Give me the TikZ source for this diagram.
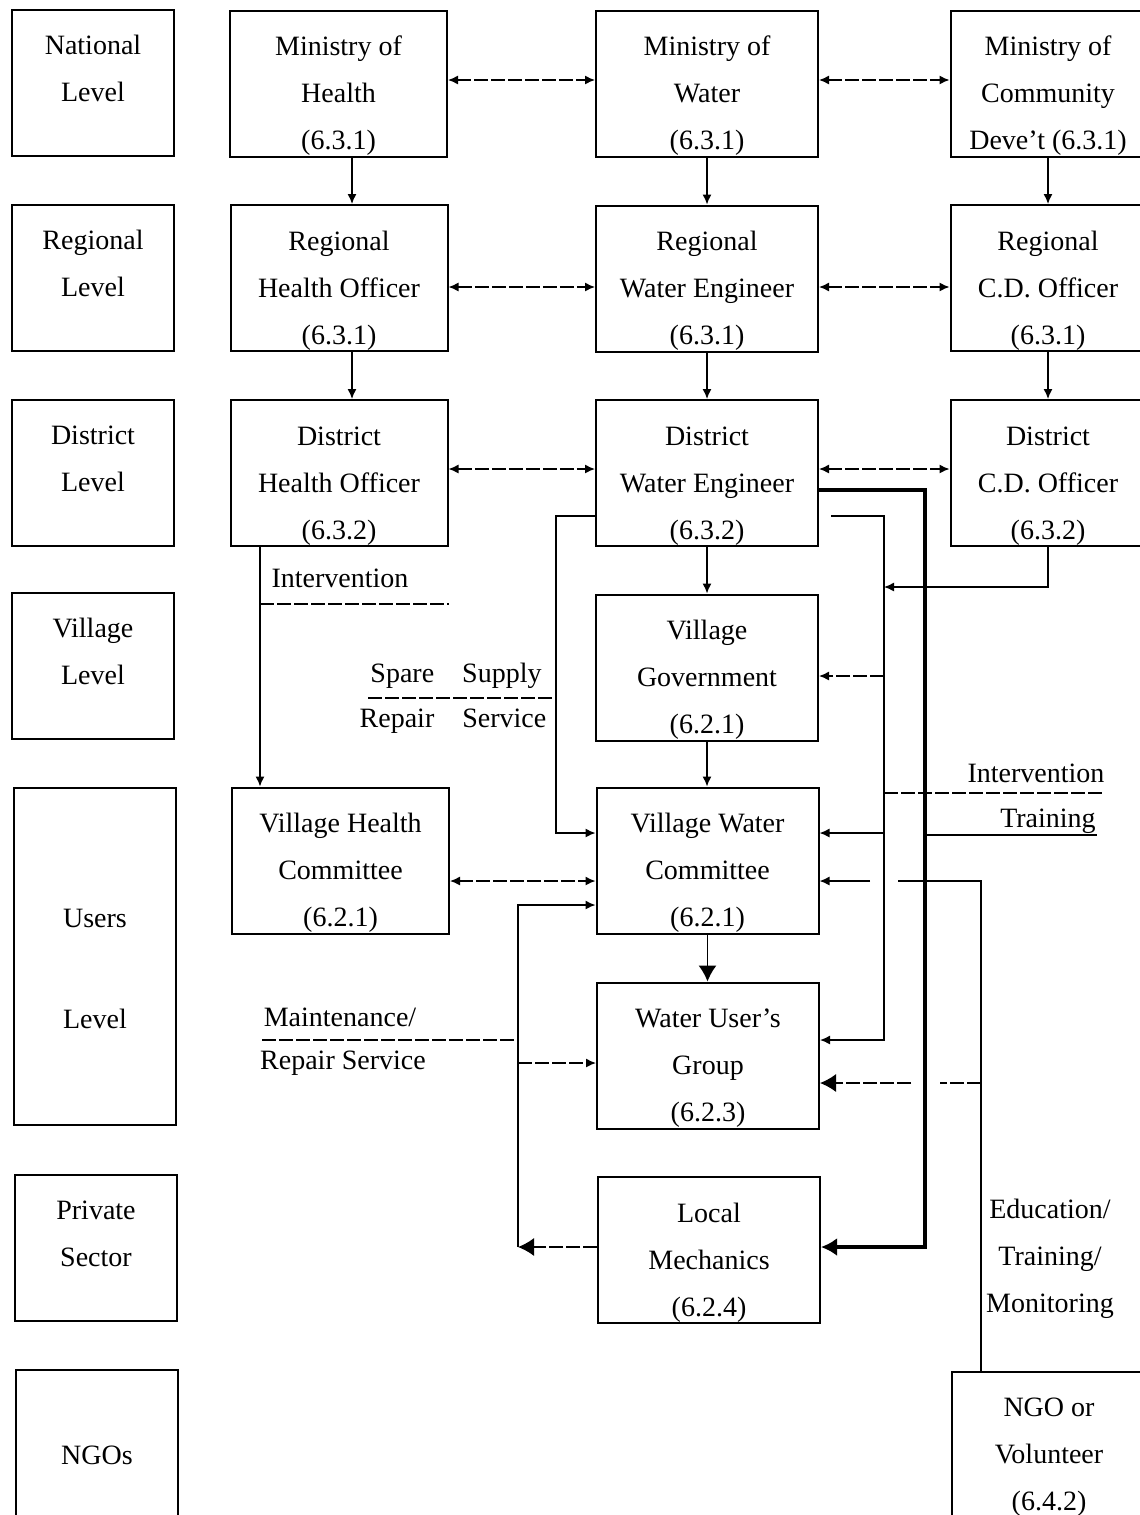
\documentclass[tikz,border=0pt]{standalone}
\usepackage{fontspec}
\setmainfont{Liberation Serif}
\usetikzlibrary{arrows.meta,calc}
\newcommand{\boxgap}{\rule{0pt}{22pt}}
\tikzset{
  orgbox/.style={draw, line width=1pt, align=center, inner sep=0pt,
    minimum width=111pt, minimum height=73pt, font=\fontsize{14}{23.5}\selectfont},
  levelbox/.style={orgbox, minimum width=81pt},
  lbl/.style={inner sep=0pt, font=\fontsize{14}{23.5}\selectfont},
  link/.style={line width=0.7pt},
  dashline/.style={dash pattern=on 7pt off 1.5pt},
  arr/.style={link, -{Latex[length=5pt,width=4.5pt]}},
  bigarr/.style={link, -{Latex[length=8pt,width=9pt]}},
  twoway/.style={link, dashline, {Latex[length=5pt,width=4.5pt]}-{Latex[length=5pt,width=4.5pt]}},
  heavyarr/.style={line width=2pt, -{Latex[length=8pt,width=9pt]}}
}
\begin{document}
\begin{tikzpicture}[x=0.5pt,y=-0.5pt]
  \useasboundingbox (0,0) rectangle (1140,1515);
  % level column
  \node[levelbox] (lnat) at (93,82.5) {\boxgap National\\Level\\\phantom{(}};
  \node[levelbox] (lreg) at (93,277.5) {\boxgap Regional\\Level\\\phantom{(}};
  \node[levelbox] (ldis) at (93,472.5) {\boxgap District\\Level\\\phantom{(}};
  \node[levelbox] (lvil) at (93,665.5) {\boxgap Village\\Level\\\phantom{(}};
  \node[levelbox, minimum height=168.5pt] (lusr) at (95,956.5) {\boxgap Users\\[27pt]Level};
  \node[levelbox] (lpri) at (96,1247.5) {\boxgap Private\\Sector\\\phantom{(}};
  \node[levelbox] (lngo) at (97,1442.5) {\boxgap NGOs};
  % health column
  \node[orgbox, minimum width=108.5pt] (moh) at (338.5,83.5) {\boxgap Ministry of\\Health\\(6.3.1)};
  \node[orgbox, minimum width=108.5pt] (rho) at (339,278) {\boxgap Regional\\Health Officer\\(6.3.1)};
  \node[orgbox, minimum width=108.5pt] (dho) at (339,473) {\boxgap District\\Health Officer\\(6.3.2)};
  \node[orgbox, minimum width=108.5pt] (vhc) at (340.5,860.5) {\boxgap Village Health\\Committee\\(6.2.1)};
  % water column
  \node[orgbox] (mow) at (707,83.5) {\boxgap Ministry of\\Water\\(6.3.1)};
  \node[orgbox] (rwe) at (707,278.5) {\boxgap Regional\\Water Engineer\\(6.3.1)};
  \node[orgbox] (dwe) at (707,473) {\boxgap District\\Water Engineer\\(6.3.2)};
  \node[orgbox] (vg) at (707,667.5) {\boxgap Village\\Government\\(6.2.1)};
  \node[orgbox] (vwc) at (707.5,860.5) {\boxgap Village Water\\Committee\\(6.2.1)};
  \node[orgbox] (wug) at (708,1055.5) {\boxgap Water User's\\Group\\(6.2.3)};
  \node[orgbox] (lm) at (709,1250) {\boxgap Local\\Mechanics\\(6.2.4)};
  % community development column
  \node[orgbox, minimum width=97.5pt] (mcd) at (1048,83.5) {\boxgap Ministry of\\Community\\Deve't (6.3.1)};
  \node[orgbox, minimum width=97.5pt] (rcd) at (1048,278) {\boxgap Regional\\C.D. Officer\\(6.3.1)};
  \node[orgbox, minimum width=97.5pt] (dcd) at (1048,473) {\boxgap District\\C.D. Officer\\(6.3.2)};
  \node[orgbox, minimum width=97.5pt] (ngo) at (1049,1444.5) {\boxgap NGO or\\Volunteer\\(6.4.2)};

  % links between ministries and officers
  \foreach \y/\a/\b/\c in {80/moh/mow/mcd, 287/rho/rwe/rcd, 469/dho/dwe/dcd} {
    \draw[twoway] (\a.east |- 0,\y) -- (\b.west |- 0,\y);
    \draw[twoway] (\b.east |- 0,\y) -- (\c.west |- 0,\y);
  }
  \draw[arr] (moh.south -| 352,0) -- (rho.north -| 352,0);
  \draw[arr] (rho.south -| 352,0) -- (dho.north -| 352,0);
  \foreach \a/\b in {mow/rwe, rwe/dwe, dwe/vg, vg/vwc, mcd/rcd, rcd/dcd}
    \draw[arr] (\a.south) -- (\a.south |- \b.north);
  \draw[bigarr] (vwc.south) -- (vwc.south |- wug.north);

  % health side
  \draw[arr] (dho.south -| 260,0) -- (vhc.north -| 260,0);
  \draw[link, dashline] (260,604) -- (dho.east |- 0,604);
  \node[lbl] (intvl) at (340,578) {Intervention};
  \draw[twoway] (vhc.east |- 0,881) -- (vwc.west |- 0,881);

  % spare supply
  \draw[arr] (dwe.west |- 0,516) -| (556,833) -- (vwc.west |- 0,833);
  \draw[link, dashline] (368,698) -- (556,698);
  \node[lbl] (spare) at (456,676) {Spare\quad Supply};
  \node[lbl] (repair) at (453,721) {Repair\quad Service};

  % mechanics loop
  \coordinate (loop) at (518,1247);
  \draw[bigarr, dashline] (lm.west |- loop) -- (loop);
  \draw[arr] (loop) -- (518,905) -- (vwc.west |- 0,905);
  \draw[arr, dashline] (518,1063) -- (wug.west |- 0,1063);
  \draw[link, dashline] (262,1040) -- (518,1040);
  \node[lbl] (maint) at (340,1017) {Maintenance/};
  \node[lbl] (mrep) at (343,1063) {Repair Service};

  % district water engineer to village bodies
  \draw[heavyarr] (dwe.east |- 0,490) -| (925,1247) -- (lm.east |- 0,1247);
  \draw[arr] ($(dwe.east |- 0,516)+(12,0)$) -- (884,516) -- (884,1040) -- (wug.east |- 0,1040);
  \draw[arr, dashline] (884,676) -- (vg.east |- 0,676);
  \draw[arr] (884,833) -- (vwc.east |- 0,833);
  \draw[arr] (dcd.south) -- (1048,587) -- (884,587);
  \draw[link, dashline] (884,793) -- (1105,793);
  \node[lbl] (intvr) at (1036,773) {Intervention};
  \draw[link] (925,835) -- (1097,835);
  \node[lbl] (train) at (1048,821) {Training};

  % NGO
  \draw[link] (ngo.north -| 981,0) -- (981,881) -- (898,881);
  \draw[arr] (870,881) -- (vwc.east |- 0,881);
  \draw[link, dashline] (981,1083) -- (940,1083);
  \draw[bigarr, dashline] (911,1083) -- (wug.east |- 0,1083);
  \node[lbl, align=center] (edu) at (1050,1259) {Education/\\Training/\\Monitoring};
\end{tikzpicture}
\end{document}
